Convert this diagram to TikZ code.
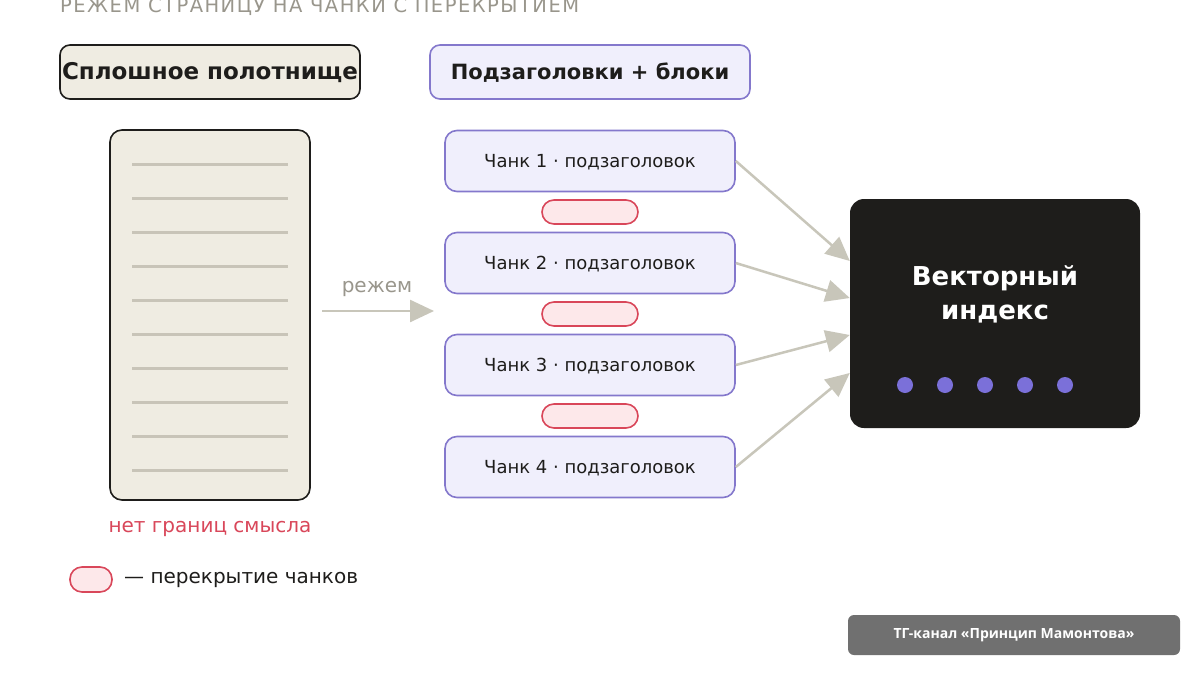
\documentclass[tikz,border=0pt]{standalone}
\usepackage{fontspec}
\setmainfont{DejaVu Sans}
\newfontfamily\badgefont{Open Sans}
\newfontfamily\titlefont[LetterSpace=7.6]{DejaVu Sans}
\usetikzlibrary{arrows.meta}
\definecolor{beige}{HTML}{EFECE2}
\definecolor{dark}{HTML}{1E1D1B}
\definecolor{lav}{HTML}{F0EFFC}
\definecolor{purp}{HTML}{8478CC}
\definecolor{rule}{HTML}{C8C4B8}
\definecolor{redc}{HTML}{D9475A}
\definecolor{pinkc}{HTML}{FDE8EA}
\definecolor{grayt}{HTML}{99968C}
\definecolor{arrc}{HTML}{C8C6BA}
\definecolor{dotc}{HTML}{7B70D9}
\definecolor{badgec}{HTML}{707070}
\tikzset{
  hdrA/.style={draw=dark, line width=1.6pt, fill=beige, rounded corners=10pt, minimum width=300pt, minimum height=54pt, font=\bfseries\fontsize{23}{27}\selectfont, text=dark, inner sep=0pt},
  hdrB/.style={draw=purp, line width=1.6pt, fill=lav, rounded corners=10pt, minimum width=320pt, minimum height=54pt, font=\bfseries\fontsize{21}{25}\selectfont, text=dark, inner sep=0pt},
  chunk/.style={draw=purp, line width=1.6pt, fill=lav, rounded corners=12pt, minimum width=290pt, minimum height=61pt, font=\fontsize{18}{22}\selectfont, text=dark, inner sep=0pt},
  chunktxt/.style={font=\fontsize{18}{22}\selectfont, text=dark, inner sep=0pt},
  ovl/.style={draw=redc, line width=1.6pt, fill=pinkc, rounded corners=12pt, minimum width=96pt, minimum height=24pt, inner sep=0pt},
  conn/.style={draw=arrc, line width=2.5pt, -{Triangle[length=24pt, width=22pt]}},
  docline/.style={draw=rule, line width=3pt},
  idxdot/.style={circle, fill=dotc, minimum size=16pt, inner sep=0pt},
}
\begin{document}
\begin{tikzpicture}[x=1pt, y=-1pt]
\useasboundingbox (0,0) rectangle (1200,675);
\fill[white] (0,0) rectangle (1200,675);

\node[anchor=west, text=grayt, font=\titlefont\fontsize{19.5}{22}\selectfont, inner sep=0pt] (title) at (60,7) {РЕЖЕМ СТРАНИЦУ НА ЧАНКИ С ПЕРЕКРЫТИЕМ};

\node[hdrA] (hA) at (210,72) {};
\node[font=\bfseries\fontsize{23}{27}\selectfont, text=dark, inner sep=0pt] (hAt) at (210,73) {Сплошное полотнище};
\node[hdrB] (hB) at (590,72) {};
\node[font=\bfseries\fontsize{21}{25}\selectfont, text=dark, inner sep=0pt] (hBt) at (590,73) {Подзаголовки + блоки};

% document
\node[draw=dark, line width=1.6pt, fill=beige, rounded corners=12pt, minimum width=200pt, minimum height=370pt, inner sep=0pt] (doc) at (210,315) {};
\foreach \yy in {164,198,232,266,300,334,368,402,436,470}
  \draw[docline] (132,\yy) -- (288,\yy);

\node[text=redc, font=\fontsize{20}{24}\selectfont, inner sep=0pt] (nogr) at (210,529) {нет границ смысла};

% cut arrow
\coordinate (cutS) at (322,311);
\coordinate (cutE) at (434,311);
\draw[conn] (cutS) -- (cutE);
\node[text=grayt, font=\fontsize{20}{24}\selectfont, inner sep=0pt] (cutlbl) at (377,289) {режем};

% chunks
\node[chunk] (c1) at (590,161) {};
\node[chunk] (c2) at (590,263) {};
\node[chunk] (c3) at (590,365) {};
\node[chunk] (c4) at (590,467) {};
\node[chunktxt] (c1t) at (590,162) {Чанк 1 · подзаголовок};
\node[chunktxt] (c2t) at (590,264) {Чанк 2 · подзаголовок};
\node[chunktxt] (c3t) at (590,366) {Чанк 3 · подзаголовок};
\node[chunktxt] (c4t) at (590,468) {Чанк 4 · подзаголовок};

\node[ovl] (o1) at (590,212) {};
\node[ovl] (o2) at (590,314) {};
\node[ovl] (o3) at (590,416) {};

% vector index
\node[fill=dark, rounded corners=14pt, minimum width=290pt, minimum height=229pt, inner sep=0pt] (idx) at (995,313.5) {};
\node[text=white, font=\bfseries\fontsize{26}{34}\selectfont, align=center, inner sep=0pt] (idxt) at (995,294) {Векторный\\индекс};
\foreach \xx [count=\i] in {905,945,985,1025,1065}
  \node[idxdot] (d\i) at (\xx,385) {};

\coordinate (t1) at (idx.west |- 0,261);
\coordinate (t2) at (idx.west |- 0,298);
\coordinate (t3) at (idx.west |- 0,335);
\coordinate (t4) at (idx.west |- 0,373);
\draw[conn] (c1.east) -- (t1);
\draw[conn] (c2.east) -- (t2);
\draw[conn] (c3.east) -- (t3);
\draw[conn] (c4.east) -- (t4);

% legend
\node[ovl, minimum width=42pt, minimum height=25pt] (lg) at (91,579.5) {};
\node[anchor=west, text=dark, font=\fontsize{20}{24}\selectfont, inner sep=0pt] (lgt) at (124,580) {— перекрытие чанков};

% badge
\node[fill=badgec, rounded corners=6pt, minimum width=332pt, minimum height=40pt, text=white, font=\badgefont\bfseries\fontsize{14}{17}\selectfont, inner sep=0pt] (badge) at (1014,635) {ТГ-канал «Принцип Мамонтова»};
\end{tikzpicture}
\end{document}
